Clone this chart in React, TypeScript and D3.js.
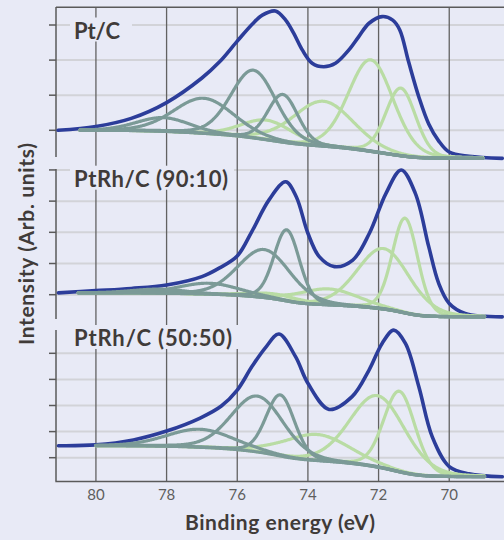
import React from 'react';
import * as d3 from 'd3';

// ---------------- data ----------------
const xTickValues = [80, 78, 76, 74, 72, 70];
const panelLabels = ['Pt/C', 'PtRh/C (90:10)', 'PtRh/C (50:50)'];
const yTicksPtC = [0, 1, 2, 3];
const yTicks9010 = [0, 1, 2, 3, 4];
const yTicks5050 = [0, 1, 2, 3, 4];

// measured envelope (binding energy eV, intensity a.u.)
const envPtCE = [81.07, 80.0, 79.0, 78.0, 77.0, 76.5, 76.0, 75.57, 75.29, 74.92, 74.63, 74.4, 74.16, 73.88, 73.55, 73.22, 72.84, 72.56, 72.27, 71.9, 71.6, 71.4, 71.15, 70.86, 70.58, 70.3, 70.0, 69.44, 68.5];
const envPtCI = [0.0, 0.11, 0.34, 0.79, 1.49, 1.95, 2.54, 3.03, 3.28, 3.4, 3.14, 2.76, 2.29, 1.91, 1.81, 1.91, 2.29, 2.67, 3.05, 3.24, 3.14, 2.86, 1.95, 0.95, 0.18, -0.3, -0.62, -0.74, -0.8];

const env9010E = [81.06, 80.0, 79.0, 78.0, 77.0, 76.5, 76.0, 75.58, 75.1, 74.63, 74.33, 74.0, 73.68, 73.25, 72.73, 72.26, 71.79, 71.36, 70.96, 70.58, 70.3, 70.0, 69.55, 68.5];
const env9010I = [0.06, 0.13, 0.2, 0.31, 0.58, 0.86, 1.24, 2.04, 3.04, 3.62, 3.14, 1.97, 1.22, 0.9, 1.11, 1.97, 3.25, 4.0, 3.25, 1.54, 0.37, -0.28, -0.6, -0.71];

const env5050E = [81.06, 80.0, 78.94, 78.0, 77.05, 76.45, 76.0, 75.58, 75.2, 74.82, 74.35, 74.0, 73.4, 72.75, 72.27, 71.9, 71.57, 71.24, 70.86, 70.48, 70.0, 69.44, 68.5];
const env5050I = [0.46, 0.49, 0.68, 1.02, 1.52, 1.98, 2.59, 3.5, 4.22, 4.74, 3.87, 2.85, 1.85, 2.34, 3.36, 4.38, 4.89, 4.38, 2.72, 0.8, -0.34, -0.62, -0.73];

// fitted components: centre (eV), height (a.u.), FWHM (eV), kind (g = 4f7/2, t = 4f5/2)
const compPtCCenter = [71.37, 72.22, 73.56, 75.16, 74.71, 75.54, 76.95, 78.09];
const compPtCHeight = [1.93, 2.61, 1.28, 0.56, 1.36, 1.93, 1.0, 0.39];
const compPtCFwhm = [1.0, 1.5, 2.0, 1.7, 1.0, 1.5, 2.0, 1.8];
const compPtCKind = ['g', 'g', 'g', 'g', 't', 't', 't', 't'];

const comp9010Center = [71.25, 71.86, 73.42, 74.9, 74.6, 75.24, 76.8, 78.2];
const comp9010Height = [3.04, 1.94, 0.51, 0.16, 2.28, 1.54, 0.35, 0.13];
const comp9010Fwhm = [0.85, 1.75, 2.0, 1.8, 0.85, 1.75, 2.0, 1.8];
const comp9010Kind = ['g', 'g', 'g', 'g', 't', 't', 't', 't'];

const comp5050Center = [71.41, 72.03, 73.74, 74.78, 75.43, 77.05];
const comp5050Height = [3.09, 2.74, 1.0, 2.34, 2.14, 0.69];
const comp5050Fwhm = [1.05, 1.85, 2.2, 0.95, 1.75, 2.2];
const comp5050Kind = ['g', 'g', 'g', 't', 't', 't'];

// Shirley background end levels [high-BE side, low-BE side] and fit range [high, low]
const bgPtC = [0.0, -0.8];
const bg9010 = [0.06, -0.71];
const bg5050 = [0.46, -0.73];
const fitRangePtC = [80.45, 69.05];
const fitRange9010 = [80.5, 69.0];
const fitRange5050 = [80.0, 69.0];

// ---------------- styling ----------------
const BG = '#e8eaf6';
const BLUE = '#2c3d9a';
const TEAL = '#7b9a97';
const GREEN = '#b9dca4';
const TEXT = '#403b39';
const AXIS = '#5a5a5a';
const ETA = 0.15;
const FONT = 'Lato, "Open Sans", sans-serif';

function peak(E: number, c: number, h: number, w: number) {
  const t = (E - c) / w;
  return h * ((1 - ETA) * Math.exp(-4 * Math.LN2 * t * t) + ETA / (1 + 4 * t * t));
}

export default function App() {
  const x = d3.scaleLinear().domain([81.13, 68.45]).range([56, 504]);

  const panels = [
    { label: panelLabels[0], top: 7, bottom: 157, domain: [-0.761, 3.513], ticks: yTicksPtC, envE: envPtCE, envI: envPtCI, c: compPtCCenter, h: compPtCHeight, w: compPtCFwhm, k: compPtCKind, bg: bgPtC, range: fitRangePtC, labelY: 38.5, boxW: 62, textW: 46 },
    { label: panelLabels[1], top: 169, bottom: 319, domain: [-0.779, 4.03], ticks: yTicks9010, envE: env9010E, envI: env9010I, c: comp9010Center, h: comp9010Height, w: comp9010Fwhm, k: comp9010Kind, bg: bg9010, range: fitRange9010, labelY: 186.7, boxW: 164, textW: 154 },
    { label: panelLabels[2], top: 330, bottom: 481, domain: [-0.893, 4.893], ticks: yTicks5050, envE: env5050E, envI: env5050I, c: comp5050Center, h: comp5050Height, w: comp5050Fwhm, k: comp5050Kind, bg: bg5050, range: fitRange5050, labelY: 346, boxW: 168, textW: 158 },
  ];

  const rendered = panels.map((p) => {
    const y = d3.scaleLinear().domain(p.domain).range([p.bottom, p.top]);
    const line = d3.line<[number, number]>().x((d) => x(d[0])).y((d) => y(d[1]));
    const envLine = d3.line<[number, number]>().x((d) => x(d[0])).y((d) => y(d[1])).curve(d3.curveCatmullRom.alpha(0.5));
    const envPts: [number, number][] = p.envE.map((e, i) => [e, p.envI[i]]);

    const lo = p.range[1], hi = p.range[0];
    const n = Math.round((hi - lo) / 0.02);
    const Es = d3.range(n + 1).map((i) => lo + (i * (hi - lo)) / n);
    const comps = p.c.map((c, j) => Es.map((E) => peak(E, c, p.h[j], p.w[j])));
    const sum = Es.map((_, i) => comps.reduce((s, arr) => s + arr[i], 0));
    const cum: number[] = [0];
    for (let i = 1; i < Es.length; i++) cum.push(cum[i - 1] + (sum[i] + sum[i - 1]) / 2);
    const total = cum[cum.length - 1];
    const L = p.bg[0], R = p.bg[1];
    const bgv = cum.map((v) => R + ((L - R) * v) / total);
    const compPaths = comps.map((arr, j) => ({ kind: p.k[j], d: line(Es.map((E, i) => [E, bgv[i] + arr[i]] as [number, number])) as string }));
    const bgPath = line(Es.map((E, i) => [E, bgv[i]] as [number, number])) as string;
    return { p, y, env: envLine(envPts) as string, compPaths, bgPath };
  });

  return (
    <svg width={504} height={540} style={{ position: 'absolute', left: 0, top: 0, background: BG }} fontFamily={FONT}>
      <rect x={0} y={0} width={504} height={540} fill={BG} />
      {rendered.map(({ p, y }, pi) => (
        <g key={'hg' + pi}>
          {p.ticks.map((t) => (
            <line key={t} x1={56} x2={504} y1={y(t)} y2={y(t)} stroke="#d2d3d8" strokeWidth={2} />
          ))}
        </g>
      ))}
      {xTickValues.map((t) => (
        <line key={t} x1={x(t)} x2={x(t)} y1={7} y2={481} stroke="#626262" strokeWidth={1.3} />
      ))}
      <line x1={56} x2={504} y1={7.3} y2={7.3} stroke={AXIS} strokeWidth={1.5} />
      <line x1={55.3} x2={504} y1={481.5} y2={481.5} stroke={AXIS} strokeWidth={1.5} />
      {rendered.map(({ p, y }, pi) => (
        <g key={'ax' + pi}>
          <line x1={56} x2={56} y1={p.top} y2={p.bottom} stroke={AXIS} strokeWidth={1.5} />
          {p.ticks.map((t) => (
            <line key={t} x1={49} x2={56} y1={y(t)} y2={y(t)} stroke={AXIS} strokeWidth={1.5} />
          ))}
        </g>
      ))}
      {rendered.map(({ env, compPaths, bgPath }, pi) => (
        <g key={'cv' + pi} fill="none" strokeLinejoin="round" strokeLinecap="round">
          <path d={env} stroke={BLUE} strokeWidth={3.6} />
          {compPaths.filter((c) => c.kind === 'g').map((c, i) => (
            <path key={'g' + i} d={c.d} stroke={GREEN} strokeWidth={3.2} />
          ))}
          {compPaths.filter((c) => c.kind === 't').map((c, i) => (
            <path key={'t' + i} d={c.d} stroke={TEAL} strokeWidth={3.2} />
          ))}
          <path d={bgPath} stroke={TEAL} strokeWidth={3.2} />
        </g>
      ))}
      {rendered.map(({ p }, pi) => (
        <g key={'lb' + pi}>
          <rect x={70} y={p.labelY - 21} width={p.boxW} height={24} fill={BG} />
          <text x={74} y={p.labelY} fontSize={22} fontWeight={700} fill={TEXT} textLength={p.textW} lengthAdjust="spacing">{p.label}</text>
        </g>
      ))}
      {xTickValues.map((t) => (
        <text key={t} x={x(t)} y={500} textAnchor="middle" fontSize={15} fill="#5e5e5e">{t}</text>
      ))}
      <text x={185} y={530} fontSize={21} fontWeight={700} fill={TEXT} textLength={190} lengthAdjust="spacing">Binding energy (eV)</text>
      <text transform="translate(33.5,345) rotate(-90)" fontSize={21} fontWeight={700} fill={TEXT} textLength={202} lengthAdjust="spacing">Intensity (Arb. units)</text>
    </svg>
  );
}
